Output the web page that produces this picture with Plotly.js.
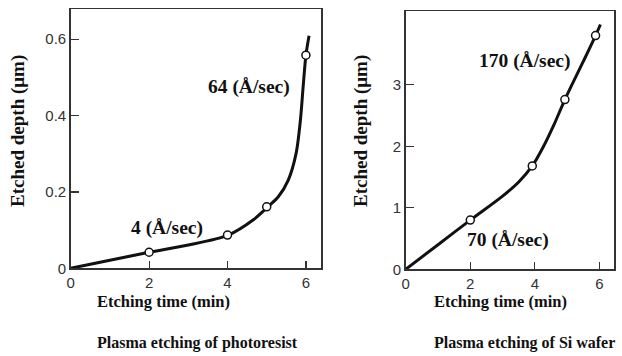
<!DOCTYPE html>
<html>
<head>
<meta charset="utf-8">
<script src="https://cdn.plot.ly/plotly-3.0.1.min.js"></script>
<style>html,body{margin:0;padding:0;background:#fff;}#chart{width:622px;height:356px;}</style>
</head>
<body>
<div id="chart"></div>
<script>
// Left panel: plasma etching of photoresist
const prCurveX = [0, 1, 2, 3, 4.02, 4.66, 5.03, 5.30, 5.55, 5.75, 5.86, 5.93, 6.0, 6.08];
const prCurveY = [0, 0.021, 0.042, 0.061, 0.087, 0.127, 0.161, 0.188, 0.231, 0.301, 0.388, 0.476, 0.558, 0.609];
const prPointsX = [2, 4, 5, 6];
const prPointsY = [0.042, 0.087, 0.161, 0.558];
// Right panel: plasma etching of Si wafer
const siCurveX = [0, 1, 2, 3, 3.5, 3.92, 4.25, 4.6, 4.93, 5.5, 5.88, 6.03];
const siCurveY = [0, 0.4, 0.8, 1.19, 1.42, 1.68, 1.98, 2.36, 2.76, 3.38, 3.8, 3.98];
const siPointsX = [2, 3.92, 4.93, 5.88];
const siPointsY = [0.80, 1.68, 2.76, 3.80];
// Tick labels
const prXTicks = [0, 2, 4, 6];
const prYTicks = [0, 0.2, 0.4, 0.6];
const prYTickText = ["0", "0.2", "0.4", "0.6"];
const siXTicks = [0, 2, 4, 6];
const siYTicks = [0, 1, 2, 3];
// Texts
const rateLabels = [
  {text: "4 (Å/sec)", x: 2.45, y: 0.106, panel: 1},
  {text: "64 (Å/sec)", x: 4.54, y: 0.474, panel: 1},
  {text: "170 (Å/sec)", x: 3.68, y: 3.38, panel: 2},
  {text: "70 (Å/sec)", x: 3.16, y: 0.48, panel: 2}
];
const xTitle = "Etching time (min)";
const yTitle = "Etched depth (μm)";
const subtitles = ["Plasma etching of photoresist", "Plasma etching of Si wafer"];

const W = 622, H = 356;
const px = v => v / W;
const py = v => 1 - v / H;

const serif = "Liberation Serif, Times New Roman, serif";
const tickFont = {family: "Liberation Sans, Arial, sans-serif", size: 15, color: "#333"};

const lineStyle = {color: "#111", width: 3, shape: "spline", smoothing: 0.8};
const markerStyle = {symbol: "circle", size: 8, color: "#fff", line: {color: "#111", width: 1.5}};

const traces = [
  {x: prCurveX, y: prCurveY, mode: "lines", line: lineStyle, xaxis: "x", yaxis: "y", hoverinfo: "skip"},
  {x: prPointsX, y: prPointsY, mode: "markers", marker: markerStyle, xaxis: "x", yaxis: "y"},
  {x: siCurveX, y: siCurveY, mode: "lines", line: lineStyle, xaxis: "x2", yaxis: "y2", hoverinfo: "skip"},
  {x: siPointsX, y: siPointsY, mode: "markers", marker: markerStyle, xaxis: "x2", yaxis: "y2"}
];

const axisCommon = {
  showgrid: false, zeroline: false, showline: true, mirror: true,
  linecolor: "#333", linewidth: 1.5,
  ticks: "inside", ticklen: 7, tickwidth: 1.2, tickcolor: "#333",
  tickfont: tickFont, tickmode: "array", fixedrange: true
};

const annotations = [];
rateLabels.forEach(l => {
  annotations.push({
    text: "<b>" + l.text + "</b>", x: l.x, y: l.y,
    xref: l.panel === 1 ? "x" : "x2", yref: l.panel === 1 ? "y" : "y2",
    showarrow: false, xanchor: "center", yanchor: "middle",
    font: {family: serif, size: 19.5, color: "#111"}
  });
});
[[163, 301], [500, 301]].forEach(p => {
  annotations.push({text: "<b>" + xTitle + "</b>", x: px(p[0]), y: py(p[1]), xref: "paper", yref: "paper",
    showarrow: false, xanchor: "center", yanchor: "middle", font: {family: serif, size: 16.5, color: "#111"}});
});
[[18, 131], [361, 131]].forEach(p => {
  annotations.push({text: "<b>" + yTitle + "</b>", x: px(p[0]), y: py(p[1]), xref: "paper", yref: "paper",
    showarrow: false, xanchor: "center", yanchor: "middle", textangle: -90, font: {family: serif, size: 19, color: "#111"}});
});
[[197, 343], [524, 343]].forEach((p, i) => {
  annotations.push({text: "<b>" + subtitles[i] + "</b>", x: px(p[0]), y: py(p[1]), xref: "paper", yref: "paper",
    showarrow: false, xanchor: "center", yanchor: "middle", font: {family: serif, size: 16, color: "#111"}});
});

const layout = {
  width: W, height: H,
  margin: {l: 0, r: 0, t: 0, b: 0, pad: 0},
  paper_bgcolor: "#fff", plot_bgcolor: "#fff",
  showlegend: false,
  xaxis: Object.assign({}, axisCommon, {domain: [px(70.7), px(321)], range: [0, 6.385], tickvals: prXTicks, anchor: "y"}),
  yaxis: Object.assign({}, axisCommon, {domain: [py(268.3), py(9)], range: [0, 0.679], tickvals: prYTicks, ticktext: prYTickText, anchor: "x", ticklen: 8}),
  xaxis2: Object.assign({}, axisCommon, {domain: [px(405.7), px(614.3)], range: [0, 6.46], tickvals: siXTicks, anchor: "y2"}),
  yaxis2: Object.assign({}, axisCommon, {domain: [py(269.3), py(11)], range: [0, 4.2], tickvals: siYTicks, anchor: "x2", ticklen: 8}),
  annotations: annotations
};

Plotly.newPlot("chart", traces, layout, {staticPlot: true, displayModeBar: false});
</script>
</body>
</html>
